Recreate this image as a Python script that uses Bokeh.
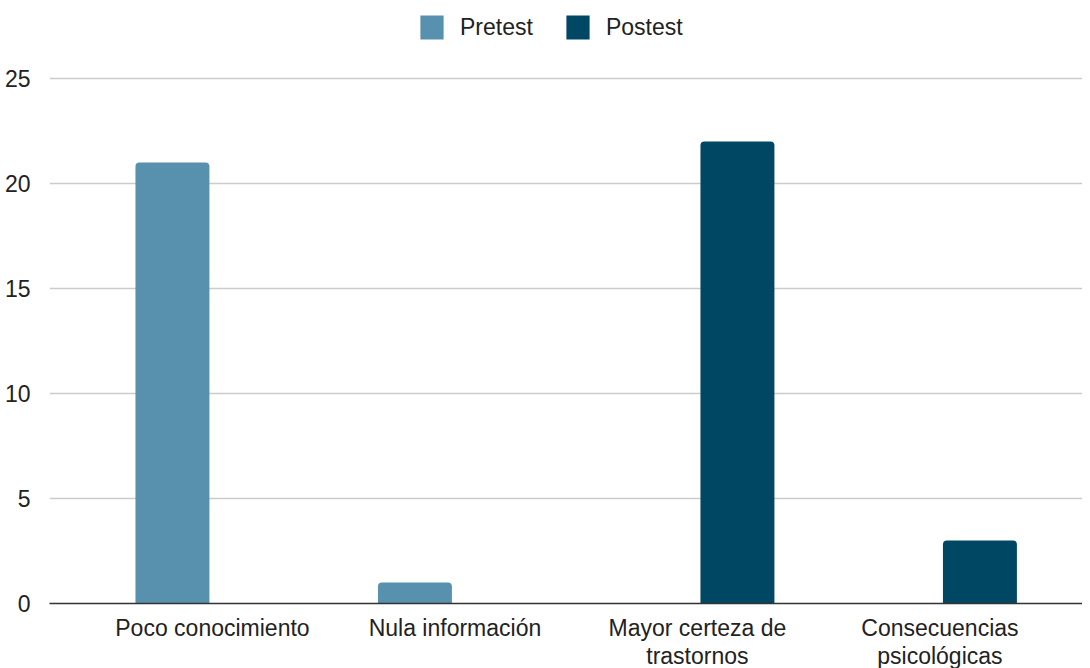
from bokeh.plotting import figure
from bokeh.models import ColumnDataSource, Range1d, FixedTicker, Legend, LegendItem
from bokeh.transform import dodge
from bokeh.embed import file_html
from bokeh.resources import INLINE

categories = ["Poco conocimiento", "Nula información", "Mayor certeza de\ntrastornos", "Consecuencias\npsicológicas"]
pretest = [21, 1, float("nan"), float("nan")]
postest = [float("nan"), float("nan"), 22, 3]
y_ticks = [0, 5, 10, 15, 20, 25]

FONT = "Liberation Sans"
PRE_COLOR = "#5891AD"
POST_COLOR = "#004763"
FS = "23px"

idx = list(range(len(categories)))
src = ColumnDataSource(dict(x=idx, pre=pretest, post=postest))

# frame extends to the top so the legend can sit inside it, above the 25 gridline
p = figure(
    frame_width=1033, frame_height=603,
    x_range=Range1d(-0.672, 3.588), y_range=Range1d(0, 603 / 21),
    output_backend="svg", toolbar_location=None,
    min_border_left=49, min_border_right=0, min_border_top=0, min_border_bottom=65,
    outline_line_color=None, background_fill_color="white", border_fill_color="white",
)

r_pre = p.vbar(x=dodge("x", -0.165, range=p.x_range), top="pre", width=0.305, bottom=0,
               source=src, fill_color=PRE_COLOR, line_color=None, border_radius=(4, 4, 0, 0))
r_post = p.vbar(x=dodge("x", 0.165, range=p.x_range), top="post", width=0.305, bottom=0,
                source=src, fill_color=POST_COLOR, line_color=None, border_radius=(4, 4, 0, 0))

# axes
p.xaxis.ticker = FixedTicker(ticks=idx)
p.xaxis.major_label_overrides = {i: c for i, c in zip(idx, categories)}
p.xaxis.axis_line_color = "#333333"
p.xaxis.axis_line_width = 1.5
p.xaxis.major_tick_line_color = None
p.xaxis.minor_tick_line_color = None
p.xaxis.major_label_standoff = 5
p.xaxis.major_label_text_font = FONT
p.xaxis.major_label_text_font_size = FS
p.xaxis.major_label_text_color = "#222222"
p.xaxis.major_label_text_line_height = 1.1

p.yaxis.ticker = FixedTicker(ticks=y_ticks)
p.yaxis.axis_line_color = None
p.yaxis.major_tick_line_color = None
p.yaxis.minor_tick_line_color = None
p.yaxis.major_label_standoff = 13
p.yaxis.major_label_text_font = FONT
p.yaxis.major_label_text_font_size = FS
p.yaxis.major_label_text_color = "#222222"

p.xgrid.grid_line_color = None
p.ygrid.grid_line_color = "#cccccc"
p.ygrid.grid_line_width = 1.5

legend = Legend(
    items=[LegendItem(label="Pretest", renderers=[r_pre]), LegendItem(label="Postest", renderers=[r_post])],
    orientation="horizontal", location=(368, 561),
    glyph_width=29, glyph_height=30, label_standoff=14, spacing=30, label_height=30,
    padding=0, margin=0, border_line_color=None, background_fill_alpha=0,
    label_text_font=FONT, label_text_font_size=FS, label_text_color="#222222",
)
p.add_layout(legend, "center")

open("out.html", "w").write(file_html(p, INLINE))
